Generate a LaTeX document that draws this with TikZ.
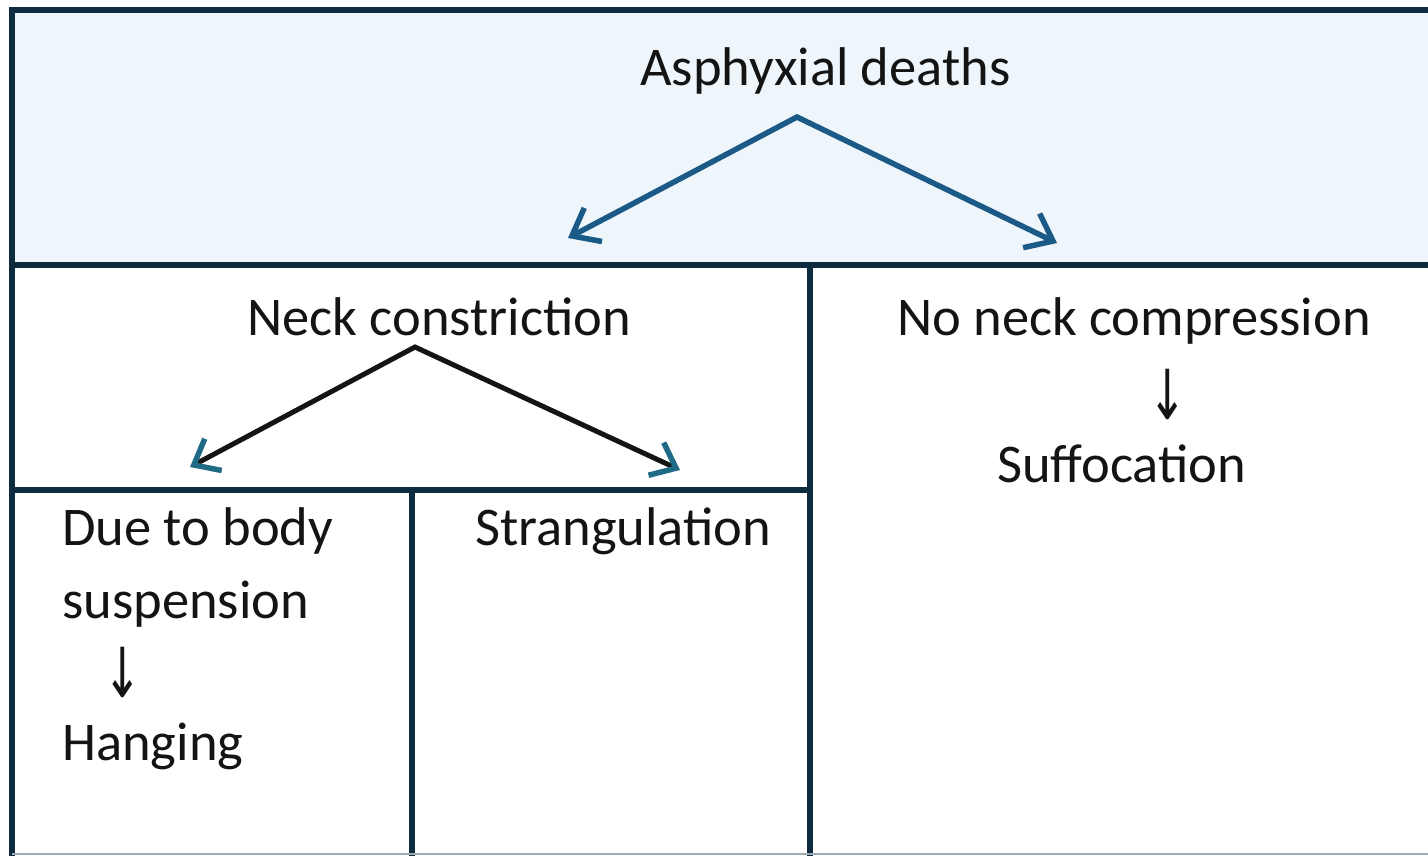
\documentclass[tikz,border=0pt]{standalone}
\usepackage{fontspec}
\setmainfont{Carlito}
\newfontfamily\symfont{DejaVu Sans}
\usetikzlibrary{arrows.meta}
\definecolor{frame}{HTML}{0E2C40}
\definecolor{arrowblue}{HTML}{1B5A86}
\definecolor{tipteal}{HTML}{1F6A84}
\definecolor{band}{HTML}{EEF6FB}
\definecolor{ink}{HTML}{141414}
\tikzset{
  lbl/.style={inner sep=0pt, text=ink, font=\fontsize{54.5}{60}\selectfont},
  sym/.style={inner sep=0pt, text=ink, font=\symfont\fontsize{46}{50}\selectfont,
    transform shape, yscale=1.5},
  rule/.style={draw=frame, line width=6},
  toparrow/.style={draw=arrowblue, line width=5.5, line cap=round, line join=round,
    -{Straight Barb[length=24, width=38, line width=5.5]}},
  neckarrow/.style={draw=ink, line width=5, line cap=round,
    -{Straight Barb[length=22, width=36, line width=5.5, color=tipteal]}}
}
\begin{document}
\begin{tikzpicture}[x=1pt,y=-1pt]
\useasboundingbox (0,0) rectangle (1428,855);
\fill[white] (0,0) rectangle (1428,855);
\fill[band] (12,10) rectangle (1428,265);
% frame
\draw[rule] (12,856) -- (12,10) -- (1440,10);
\draw[rule] (12,265) -- (1440,265);
\draw[rule] (810,265) -- (810,860);
\draw[rule] (12,490) -- (810,490);
\draw[rule] (412,490) -- (412,860);
\draw[draw=frame!40, line width=2] (12,854) -- (1440,854);
% texts
\node[lbl, anchor=base west] (root) at (640,85) {Asphyxial deaths};
\node[lbl, anchor=base west] (neck) at (247,335) {Neck constriction};
\node[lbl, anchor=base west] (noneck) at (897,335) {No neck compression};
\node[sym] (arrR) at (1168,394) {↓};
\node[lbl, anchor=base west] (suff) at (997,482) {Suffocation};
\node[lbl, anchor=base west] (due) at (62,545) {Due to body};
\node[lbl, anchor=base west] (susp) at (62,618) {suspension};
\node[sym] (arrL) at (123,672) {↓};
\node[lbl, anchor=base west] (hang) at (62,760) {Hanging};
\node[lbl, anchor=base west] (strang) at (475,545) {Strangulation};
% connectors
\coordinate (apexA) at (797,117);
\coordinate (endAL) at (568,238);
\coordinate (endAR) at (1057,243);
\coordinate (apexN) at (415,347);
\coordinate (endNL) at (190,467);
\coordinate (endNR) at (680,470);
\draw[toparrow] (apexA) -- (endAL);
\draw[toparrow] (apexA) -- (endAR);
\draw[neckarrow] (apexN) -- (endNL);
\draw[neckarrow] (apexN) -- (endNR);
\end{tikzpicture}
\end{document}
